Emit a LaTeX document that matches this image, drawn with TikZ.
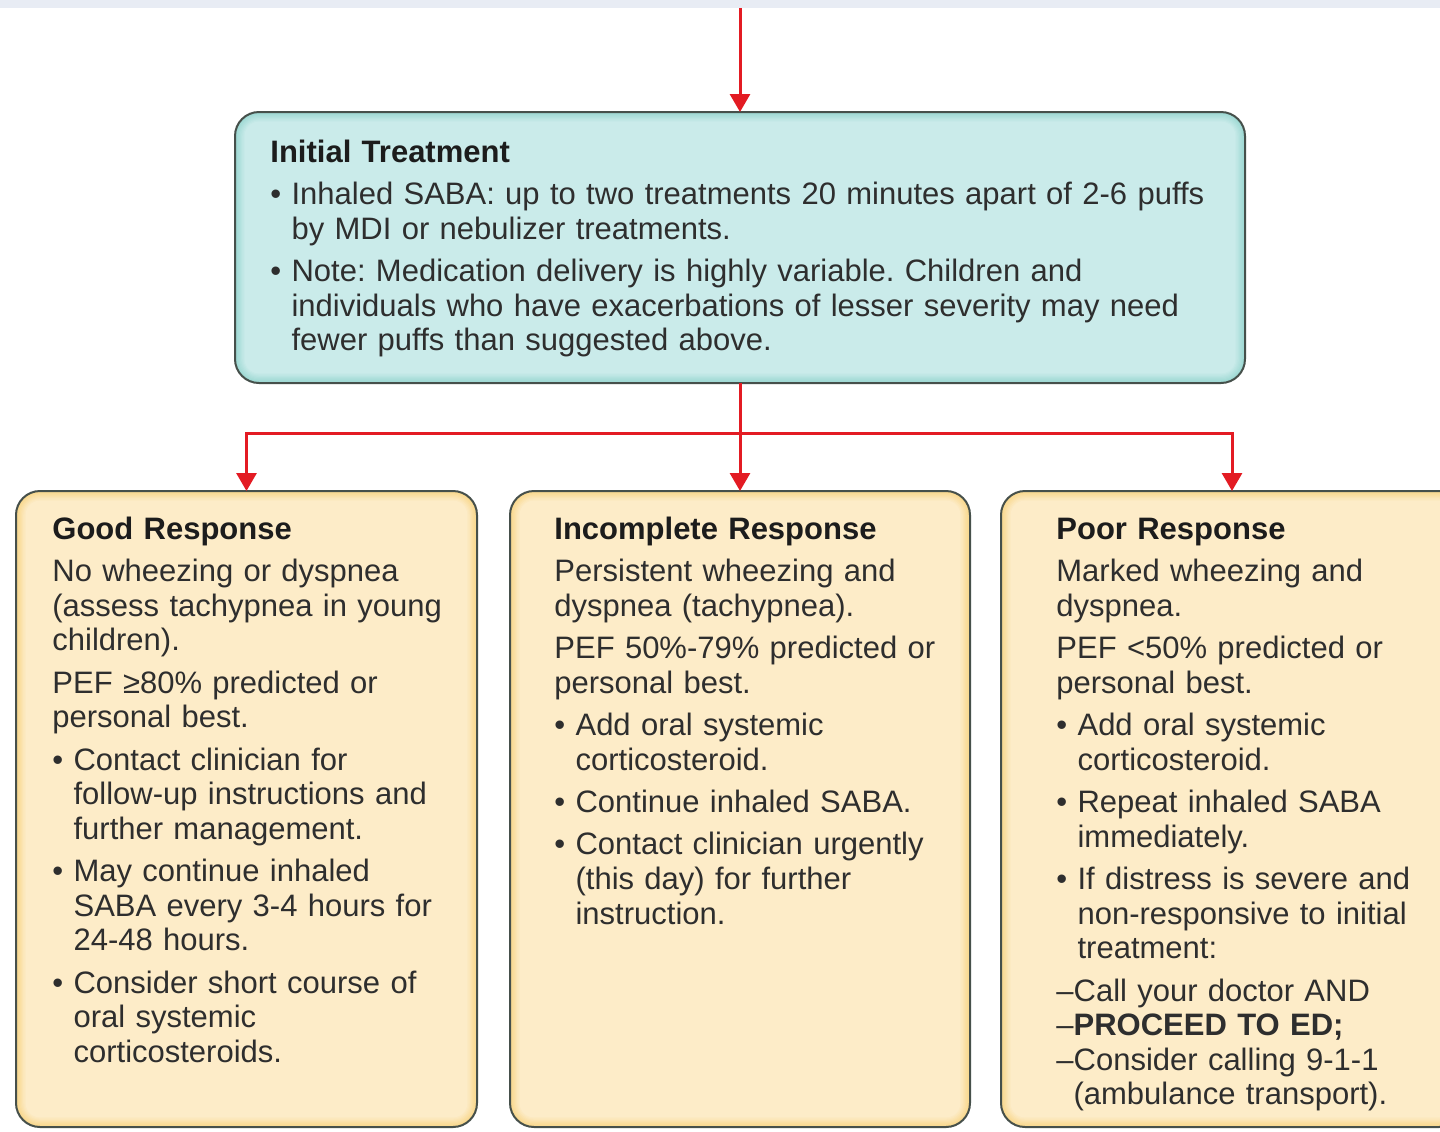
\documentclass[tikz,border=0pt]{standalone}
\usepackage{fontspec}
\setmainfont{Liberation Sans}
\usetikzlibrary{arrows.meta}

\definecolor{arrowred}{HTML}{E31B23}
\definecolor{tealedge}{HTML}{9BD8D2}
\definecolor{tealin}{HTML}{CAEBEA}
\definecolor{yellowedge}{HTML}{F9D78A}
\definecolor{yellowin}{HTML}{FDECC8}
\definecolor{boxline}{HTML}{46504B}
\definecolor{ink}{HTML}{2E2E2E}
\definecolor{titleink}{HTML}{1C1C1C}
\definecolor{band}{HTML}{E8ECF4}

% body text: Arial-like, tight leading, small gap between paragraphs
\newcommand\boxtext{\fontsize{15.5pt}{17.3pt}\selectfont\frenchspacing\parindent=0pt\parskip=3.9pt}
\newcommand\ttl[1]{{\color{titleink}\bfseries #1}\par}
\newcommand\bitem[1]{\par\setbox0=\hbox{•\ }\hangindent=\wd0\hangafter=1\noindent\box0 #1\par}

\tikzset{
  conn/.style={draw=arrowred, line width=1.5pt},
  arr/.style={conn, -{Triangle[width=10pt,length=9pt]}},
  box/.style={rounded corners=12pt, draw=boxline, line width=1pt, inner sep=0pt,
    outer sep=0pt, anchor=north west, minimum width=#1},
  glow/.style n args={2}{path picture={
      \foreach \k in {1,...,8}{
        \pgfmathsetmacro\pc{\k*12.5}
        \fill[#2!\pc!#1, rounded corners=12pt-\k*0.6pt]
          ([shift={(\k*0.6pt,\k*0.6pt)}]path picture bounding box.south west) rectangle
          ([shift={(-\k*0.6pt,-\k*0.6pt)}]path picture bounding box.north east);
      }}},
  tealbox/.style={box=#1, fill=tealedge, glow={tealedge}{tealin}},
  yellowbox/.style={box=#1, fill=yellowedge, glow={yellowedge}{yellowin}},
  txt/.style={anchor=base west, inner sep=0pt, text width=#1, text=ink, font=\boxtext},
}

\begin{document}
\begin{tikzpicture}[x=0.5pt, y=-0.5pt]
  \useasboundingbox (0,0) rectangle (1440,1131);
  \clip (0,0) rectangle (1440,1131);
  \fill[white] (0,0) rectangle (1440,1131);
  \fill[band] (0,0) rectangle (1440,8);

  % boxes
  \node[tealbox=505pt, minimum height=135.5pt] (init) at (235,112) {};
  \node[yellowbox=230.5pt, minimum height=318pt] (good) at (16,491) {};
  \node[yellowbox=230pt, minimum height=318pt] (mid) at (510,491) {};
  \node[yellowbox=231pt, minimum height=318pt] (poor) at (1001,491) {};

  % connectors
  \coordinate (ytop) at (0,8);
  \coordinate (ysplit) at (0,433);
  \coordinate (entry) at (init.north |- ytop);
  \coordinate (split) at (init.south |- ysplit);
  \draw[arr] (entry) -- (init.north);
  \draw[conn] (init.south) -- (split);
  \draw[arr] (split) -- (mid.north);
  \draw[arr] (split) -| (good.north);
  \draw[arr] (split) -| (poor.north);

  % texts
  \node[txt=500pt] (initText) at (270,162) {%
    \ttl{Initial Treatment}
    \bitem{Inhaled SABA: up to two treatments 20 minutes apart of 2-6 puffs\newline
      by MDI or nebulizer treatments.}
    \bitem{Note: Medication delivery is highly variable. Children and\newline
      individuals who have exacerbations of lesser severity may need\newline
      fewer puffs than suggested above.}};

  \node[txt=215pt] (goodText) at (52,539) {%
    \ttl{Good Response}
    No wheezing or dyspnea\newline (assess tachypnea in young\newline children).\par
    PEF ≥80\% predicted or\newline personal best.\par
    \bitem{Contact clinician for\newline follow-up instructions and\newline further management.}
    \bitem{May continue inhaled\newline SABA every 3-4 hours for\newline 24-48 hours.}
    \bitem{Consider short course of\newline oral systemic\newline corticosteroids.}};

  \node[txt=215pt] (midText) at (554,539) {%
    \ttl{Incomplete Response}
    Persistent wheezing and\newline dyspnea (tachypnea).\par
    PEF 50\%-79\% predicted or\newline personal best.\par
    \bitem{Add oral systemic\newline corticosteroid.}
    \bitem{Continue inhaled SABA.}
    \bitem{Contact clinician urgently\newline (this day) for further\newline instruction.}};

  \node[txt=215pt] (poorText) at (1056,539) {%
    \ttl{Poor Response}
    Marked wheezing and\newline dyspnea.\par
    PEF <50\% predicted or\newline personal best.\par
    \bitem{Add oral systemic\newline corticosteroid.}
    \bitem{Repeat inhaled SABA\newline immediately.}
    \bitem{If distress is severe and\newline non-responsive to initial\newline treatment:}
    –Call your doctor AND\newline
    –\textbf{PROCEED TO ED;}\newline
    –Consider calling 9-1-1\newline
    \hspace*{8.6pt}(ambulance transport).\par};
\end{tikzpicture}
\end{document}
